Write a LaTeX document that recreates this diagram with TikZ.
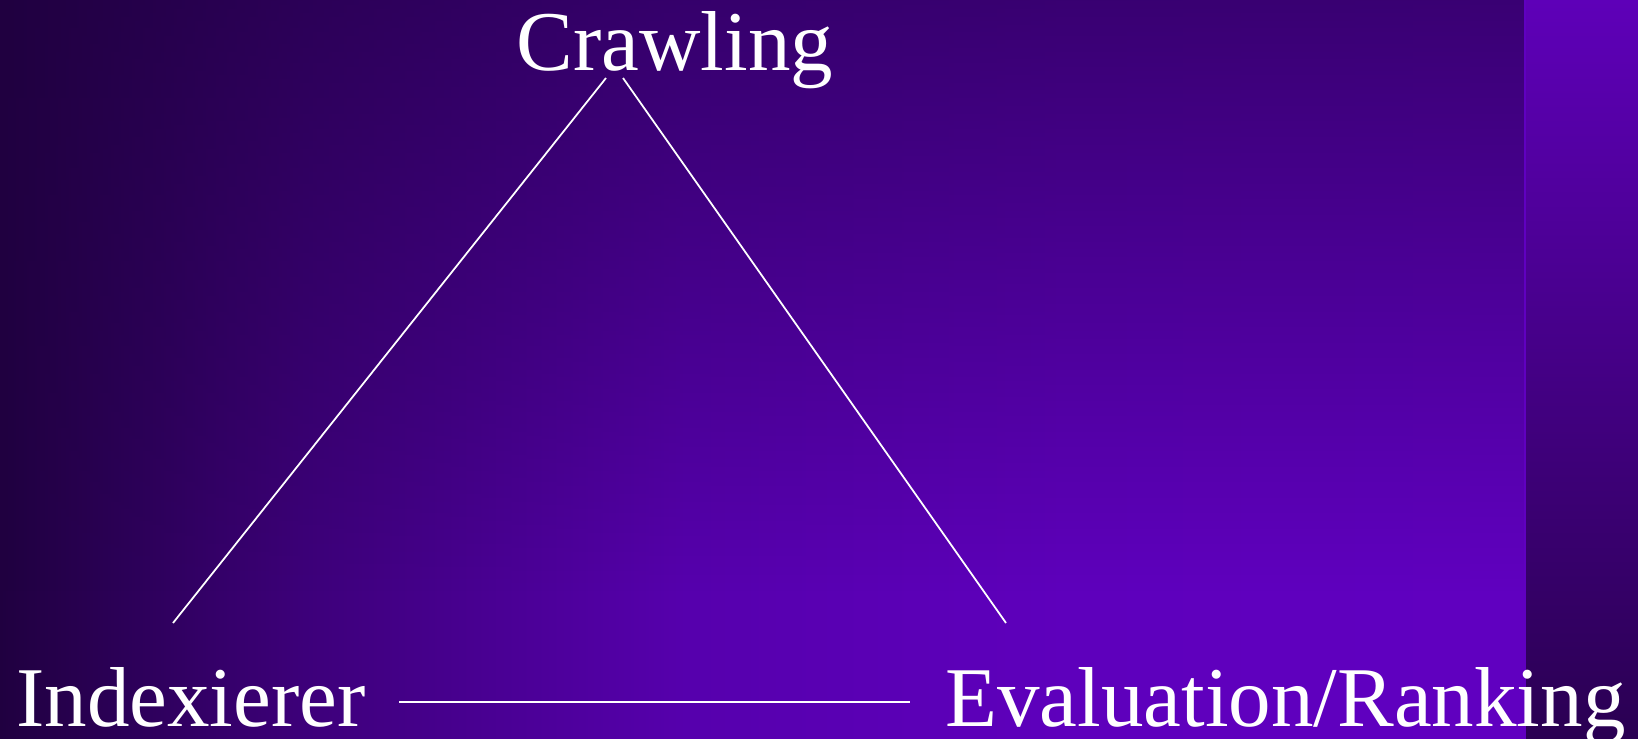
\documentclass[tikz,border=0pt]{standalone}
\usepackage{fontspec}
\setmainfont{Liberation Serif}
\usetikzlibrary{fadings}
\definecolor{SlideDark}{HTML}{200040}
\definecolor{SlideLow}{HTML}{3D007A}
\definecolor{SlideMid}{HTML}{5600AD}
\definecolor{SlideHigh}{HTML}{5E00BC}
\definecolor{SlideBright}{HTML}{6000C0}
\definecolor{StripTop}{HTML}{5E00B8}
\definecolor{StripBottom}{HTML}{2A0052}
\pgfdeclarehorizontalshading{slidebg}{100bp}{color(0bp)=(SlideDark); color(25bp)=(SlideDark); color(35bp)=(SlideLow); color(47.5bp)=(SlideMid); color(60bp)=(SlideHigh); color(75bp)=(SlideBright); color(100bp)=(SlideBright)}
\tikzfading[name=topfade, top color=transparent!40, bottom color=transparent!100]

\begin{document}
\begin{tikzpicture}[x=0.02cm, y=-0.02cm,
    lbl/.style={text=white, inner sep=0pt, font=\fontsize{48.4}{58}\selectfont},
    link/.style={draw=white, line width=1pt}]
  \useasboundingbox (0,0) rectangle (1638,739);
  % slide background
  \shade[shading=slidebg] (0,0) rectangle (1526,739);
  \fill[SlideDark, path fading=topfade] (0,0) rectangle (1526,591);
  \shade[top color=StripTop, bottom color=StripBottom] (1526,0) rectangle (1638,739);
  % the three parts
  \node[lbl, anchor=base] (crawl) at (675,71) {Crawling};
  \node[lbl, anchor=base west] (index) at (16,726) {Indexierer};
  \node[lbl, anchor=base west] (eval) at (945,726) {Evaluation/Ranking};
  \draw[link] ([shift={(-69,7)}]crawl.base) -- ([shift={(157,-103)}]index.base west);
  \draw[link] ([shift={(-52,7)}]crawl.base) -- ([shift={(61,-103)}]eval.base west);
  \draw[link] ([shift={(33,-24)}]index.base east) -- ([shift={(-35,-24)}]eval.base west);
\end{tikzpicture}
\end{document}
